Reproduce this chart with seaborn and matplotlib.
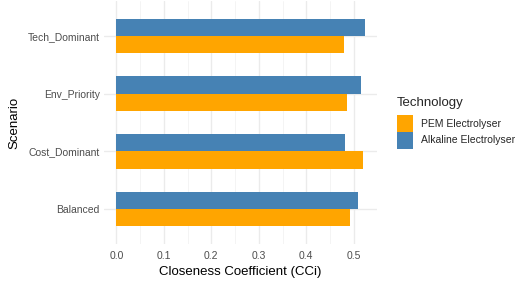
import pandas as pd
import numpy as np
import matplotlib.pyplot as plt
import seaborn as sns
from matplotlib.patches import Patch
from matplotlib.ticker import MultipleLocator

scenarios = ['Tech_Dominant', 'Env_Priority', 'Cost_Dominant', 'Balanced']
pem = [0.479, 0.485, 0.519, 0.493]
alkaline = [0.523, 0.516, 0.482, 0.508]
technologies = ['PEM Electrolyser', 'Alkaline Electrolyser']
colors = {'PEM Electrolyser': '#FFA500', 'Alkaline Electrolyser': '#4682B4'}

df = pd.DataFrame({
    'Scenario': scenarios * 2,
    'CCi': pem + alkaline,
    'Technology': [technologies[0]] * 4 + [technologies[1]] * 4,
})

sns.set_style('white')
plt.rcParams['font.family'] = ['Liberation Sans', 'DejaVu Sans']

fig = plt.figure(figsize=(5.21, 2.88), dpi=100)
ax = fig.add_axes([0.1996, 0.154, 0.524, 0.841])

# alkaline first so it sits on top within each group
sns.barplot(data=df, y='Scenario', x='CCi', hue='Technology', order=scenarios,
            hue_order=[technologies[1], technologies[0]], palette=colors,
            width=0.6, orient='h', errorbar=None, legend=False, ax=ax,
            edgecolor='none', saturation=1)

ax.set_xlim(-0.026, 0.549)
ax.set_ylim(3.6, -0.6)
ax.xaxis.set_major_locator(MultipleLocator(0.1))
ax.xaxis.set_minor_locator(MultipleLocator(0.05))
ax.xaxis.set_major_formatter(plt.FuncFormatter(lambda v, p: f'{v:.1f}'))
ax.set_axisbelow(True)
ax.grid(True, which='major', color='#EBEBEB', linewidth=1.0)
ax.grid(True, which='minor', axis='x', color='#F3F3F3', linewidth=0.6)
for s in ax.spines.values():
    s.set_visible(False)
ax.tick_params(which='both', length=0, labelsize=7.5, labelcolor='#4D4D4D')
ax.tick_params(axis='x', pad=5)
ax.tick_params(axis='y', pad=3)

ax.set_xlabel('Closeness Coefficient (CCi)', fontsize=9.5, color='black', labelpad=4)
ax.set_ylabel('Scenario', fontsize=9.5, color='black', labelpad=5)

# legend title drawn separately to get the ggplot-like spacing
fig.text(0.762, 1 - 103 / 288, 'Technology', fontsize=9.5, va='center', ha='left')
handles = [Patch(facecolor=colors[t], edgecolor='none') for t in technologies]
leg = fig.legend(handles, technologies, loc='upper left',
                 bbox_to_anchor=(0.762, 1 - 115 / 288), frameon=False, fontsize=7.5,
                 handlelength=1.55, handleheight=2.1,
                 handletextpad=0.75, labelspacing=0.0, borderaxespad=0,
                 borderpad=0)

fig.savefig('out.png', dpi=100, facecolor='white')
